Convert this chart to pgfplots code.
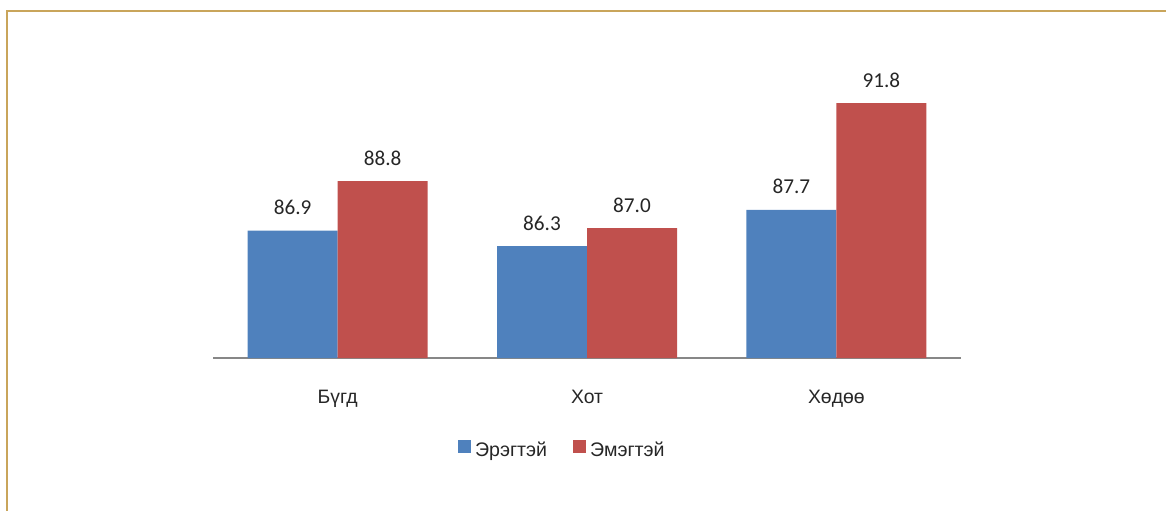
\documentclass[border=0pt]{standalone}
\usepackage{fontspec}
\setmainfont{Liberation Sans}
\newfontfamily\numfont{Carlito}
\usepackage{pgfplots}
\pgfplotsset{compat=1.18}
\definecolor{cblue}{HTML}{4F81BD}
\definecolor{cred}{HTML}{C0504D}
\definecolor{framecol}{HTML}{C9A55B}
\definecolor{axgray}{HTML}{878787}
\definecolor{txt}{HTML}{262626}
\begin{document}
\begin{tikzpicture}[x=1bp,y=1bp]
\useasboundingbox (0,0) rectangle (583,-255.5);
\draw[framecol, line width=1bp] (583,-5.25) -- (3.25,-5.25) -- (3.25,-255.5);
\begin{axis}[
  at={(106.5bp,-179bp)}, anchor=south west,
  scale only axis, width=374bp, height=156bp,
  ymin=82, ymax=94, xmin=-0.5, xmax=2.5,
  axis y line=none,
  axis x line*=bottom,
  x axis line style={-, draw=axgray, line width=0.8bp},
  xtick=data,
  xticklabels={Бүгд,Хот,Хөдөө},
  major tick length=0pt,
  xticklabel style={font=\fontsize{9.7bp}{11bp}\selectfont, text=txt, anchor=base, yshift=-22.5bp, inner sep=0pt},
  ybar=0pt, bar width=45bp,
  nodes near coords,
  every node near coord/.append style={font=\fontsize{10.6bp}{12bp}\selectfont\numfont, text=txt, anchor=base, inner sep=0pt, yshift=8bp},
  /pgf/number format/.cd, fixed, fixed zerofill, precision=1, assume math mode=true,
  /pgfplots/.cd,
  legend columns=2,
  legend image code/.code={\fill[#1] (0bp,-0.8bp) rectangle (6.4bp,5.6bp);},
  legend style={draw=none, fill=none, at={(0.3275,-0.2985)}, anchor=west,
    font=\fontsize{9.8bp}{11bp}\selectfont, text=txt,
    inner sep=0pt, outer sep=0pt,
    nodes={inner xsep=2.15bp},
    /tikz/every even column/.append style={column sep=10.8bp}},
]
\addplot[fill=cblue, draw=none] coordinates {(0,86.9) (1,86.3) (2,87.7)};
\addplot[fill=cred, draw=none] coordinates {(0,88.8) (1,87.0) (2,91.8)};
\legend{Эрэгтэй,Эмэгтэй}
\end{axis}
\end{tikzpicture}
\end{document}
